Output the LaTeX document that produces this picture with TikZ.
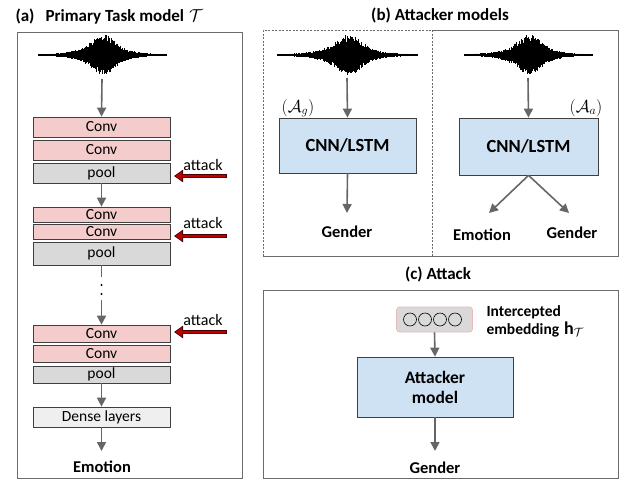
\documentclass[tikz,border=0pt]{standalone}
\usepackage{fontspec}
\setmainfont{Carlito}
\usetikzlibrary{arrows.meta}

\definecolor{convpink}{HTML}{F4CCCC}
\definecolor{poolgray}{HTML}{D9D9D9}
\definecolor{densegray}{HTML}{EFEFEF}
\definecolor{modelblue}{HTML}{CFE2F3}
\definecolor{edgegray}{HTML}{3F3F3F}
\definecolor{framegray}{HTML}{6B6B6B}
\definecolor{flowgray}{HTML}{666666}
\definecolor{attackred}{HTML}{C00000}
\definecolor{attackdark}{HTML}{4A0000}
\definecolor{embedpink}{HTML}{EBB9B9}

% speech waveform: centre x, centre y, half width, random seed
\newcommand\speechwave[4]{%
  \pgfmathsetseed{#4}%
  \foreach \k in {0,...,240}{%
    \pgfmathsetmacro\u{-1+\k/120}%
    \pgfmathsetmacro\env{1+8*exp(-\u*\u/0.22)+12*exp(-(\u-0.03)*(\u-0.03)/0.045)}%
    \pgfmathsetmacro\up{\env*(0.62+0.38*rnd)}%
    \pgfmathsetmacro\dn{\env*(0.62+0.38*rnd)}%
    \draw[line width=0.8pt,black] ({#1+\u*#3},{#2-\up}) -- ({#1+\u*#3},{#2+\dn});
  }%
}

\begin{document}
\begin{tikzpicture}[x=1pt,y=-1pt,
  layer/.style={draw=edgegray,line width=0.7pt,minimum width=137pt,inner sep=0pt,
    font=\fontsize{15.5}{17}\selectfont},
  convbox/.style={layer,fill=convpink},
  poolbox/.style={layer,fill=poolgray},
  densebox/.style={layer,fill=densegray},
  modelbox/.style={draw=edgegray,line width=0.7pt,fill=modelblue,inner sep=0pt,
    font=\fontsize{18.5}{22}\selectfont\bfseries,align=center},
  flow/.style={draw=flowgray,line width=1.6pt,-{Triangle[length=9pt,width=9pt]}},
  frame/.style={draw=framegray,line width=0.8pt},
  dashframe/.style={draw=framegray,line width=0.8pt,dash pattern=on 2pt off 1.5pt},
  outlabel/.style={font=\fontsize{16.5}{19}\selectfont\bfseries},
  paneltitle/.style={font=\fontsize{17}{20}\selectfont\bfseries},
  attacklabel/.style={font=\fontsize{16}{19}\selectfont},
  attackouter/.style={draw=attackdark,line width=4pt,-{Triangle[length=9pt,width=12pt]}},
  attackinner/.style={draw=attackred,line width=2.2pt,shorten >=1.6pt,-{Triangle[length=6.5pt,width=8.5pt]}},
  ring/.style={circle,draw=black,line width=0.6pt,minimum size=13pt,inner sep=0pt}
]
\useasboundingbox (0,0) rectangle (623,479);

% ---------------- (a) primary task model ----------------
\node[paneltitle,anchor=west] (titleA) at (12,17)
  {(a)\hspace{11pt}Primary Task model\hspace{5pt}{\fontsize{19}{20}\selectfont$\mathcal{T}$}};
\draw[frame] (17,32) rectangle (242,478);

\speechwave{102}{55}{64}{11}
\coordinate (waveA) at (102,79);

\node[convbox,minimum height=20pt] (c1) at (101.5,127) {Conv};
\node[convbox,minimum height=20pt] (c2) at (101.5,150) {Conv};
\node[poolbox,minimum height=20pt] (p1) at (101.5,173) {pool};

\node[convbox,minimum height=15pt] (c3) at (101.5,214.5) {Conv};
\node[convbox,minimum height=15pt] (c4) at (101.5,231.5) {Conv};
\node[poolbox,minimum height=23pt] (p2) at (101.5,253.5) {pool};

\node[convbox,minimum height=17pt] (c5) at (101.5,333.5) {Conv};
\node[convbox,minimum height=17pt] (c6) at (101.5,353.5) {Conv};
\node[poolbox,minimum height=17pt] (p3) at (101.5,374.5) {pool};

\node[densebox,minimum height=20pt] (dense) at (101.5,417) {Dense layers};
\node[outlabel] (emoA) at (102,467) {Emotion};

\draw[flow] (waveA) -- (c1.north);
\draw[flow] (p1.south) -- (c3.north);
% elided blocks
\coordinate (gapTop) at (101.5,277);
\coordinate (gapBot) at (101.5,300);
\draw[draw=flowgray,line width=1.6pt] (p2.south) -- (gapTop);
\fill[black] (101.5,285) circle (1.1pt) (101.5,294) circle (1.1pt);
\draw[flow] (gapBot) -- (c5.north);
\draw[flow] (p3.south) -- (dense.north);
\draw[flow] (dense.south) -- (101.5,451);

% attack points
\foreach \n/\ly/\ay in {1/165/176, 2/223/236, 3/320/332}{
  \node[attacklabel] (atk\n) at (203,\ly) {attack};
  \coordinate (src\n) at (227,\ay);
  \coordinate (dst\n) at (174,\ay);
  \draw[attackouter] (src\n) -- (dst\n);
  \draw[attackinner] ([xshift=-1pt]src\n) -- (dst\n);
}

% ---------------- (b) attacker models ----------------
\node[paneltitle] (titleB) at (440,15) {(b) Attacker models};
\draw[dashframe] (263,256) -- (263,30) -- (432,30);
\draw[frame] (432,30) -- (618,30) -- (618,256) -- (263,256);
\draw[dashframe] (432,30) -- (432,256);

\speechwave{347}{55}{70}{23}
\coordinate (waveB) at (347,78);
\speechwave{528}{55}{64}{37}
\coordinate (waveC) at (528,78);

\node[modelbox,minimum width=137pt,minimum height=55pt] (mg) at (347.5,145.5) {CNN/LSTM};
\node[modelbox,minimum width=139pt,minimum height=57pt] (ma) at (528.5,146.5) {CNN/LSTM};
\node[font=\fontsize{17}{20}\selectfont] (lg) at (298,108) {$(\mathcal{A}_g)$};
\node[font=\fontsize{17}{20}\selectfont] (la) at (586,108) {$(\mathcal{A}_a)$};

\node[outlabel] (genB) at (347,232) {Gender};
\node[outlabel] (emoB) at (482,235) {Emotion};
\node[outlabel] (genC) at (572,233) {Gender};

\draw[flow] (waveB) -- (mg.north);
\draw[flow] (waveC) -- (ma.north);
\draw[flow] (mg.south) -- (347,213);
\draw[flow] (ma.south) -- (489,213);
\draw[flow] (ma.south) -- (569,213);

% ---------------- (c) attack ----------------
\node[paneltitle] (titleC) at (438,274) {(c) Attack};
\draw[frame] (263,290) rectangle (618,478);

\node[draw=embedpink,fill=poolgray,rounded corners=3pt,line width=0.7pt,
  minimum width=76pt,minimum height=25pt] (emb) at (434.5,319.5) {};
\foreach \i/\cx in {1/410,2/425,3/440,4/455}{
  \node[ring] (r\i) at (\cx,319.5) {};
}
\node[font=\fontsize{15.5}{18}\selectfont\bfseries,align=left,anchor=west] (embtxt) at (483,321)
  {Intercepted\\embedding\hspace{5pt}{\fontsize{18}{18}\selectfont$\mathbf{h}_{\mathcal{T}}$}};

\node[modelbox,minimum width=156pt,minimum height=60pt,font=\fontsize{17.5}{20}\selectfont\bfseries]
  (att) at (435,387) {Attacker\\model};
\node[outlabel] (genD) at (435,468) {Gender};

\draw[flow] (emb.south) -- (att.north);
\draw[flow] (att.south) -- (435,451);
\end{tikzpicture}
\end{document}
